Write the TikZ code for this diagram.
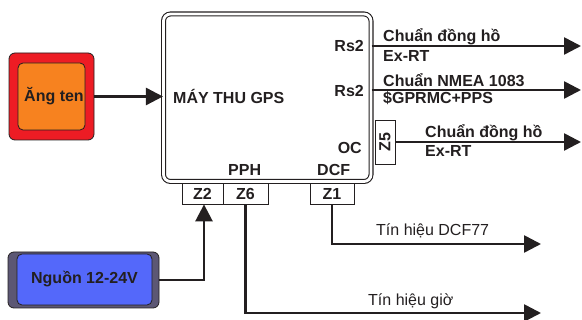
\documentclass[tikz,border=0pt]{standalone}
\usepackage{fontspec}
\setmainfont{Liberation Sans}
\usepackage{graphicx}
\usetikzlibrary{arrows.meta,positioning,calc}
\definecolor{antred}{RGB}{237,28,36}
\definecolor{antorange}{RGB}{247,130,31}
\definecolor{pwrgray}{RGB}{92,87,116}
\definecolor{pwrblue}{RGB}{84,104,250}
\definecolor{ink}{RGB}{35,31,32}

\begin{document}
\begin{tikzpicture}[x=1pt,y=-1pt,
	every node/.style={font=\fontsize{16}{19}\selectfont\bfseries,text=ink,inner sep=0pt},
	conn/.style={line width=2.6pt,draw=ink,-{Triangle[length=17pt,width=17pt]}},
	shell/.style={draw=ink,line width=0.8pt,rounded corners=6pt},
	port/.style={draw=ink,line width=0.8pt,fill=white,minimum height=21pt},
	plain/.style={font=\fontsize{16}{19}\selectfont}]
			\useasboundingbox (0,0) rectangle (582,320);
			% nguon va anten
			\node[shell,fill=antred,minimum width=85pt,minimum height=87pt] (ant) at (51.5,96.5) {};
			\node[shell,fill=antorange,minimum width=67pt,minimum height=67pt,rounded corners=5pt] (antin) at (51.5,96.5) {\hspace*{5pt}Ăng ten};
			\node[shell,fill=pwrgray,minimum width=151pt,minimum height=56pt] (pwr) at (83.5,280) {};
			\node[shell,fill=pwrblue,minimum width=135pt,minimum height=51pt,rounded corners=5pt] (pwrin) at (84.5,279.5) {Nguồn 12-24V};
			% may thu
			\node[draw=ink,double=white,double distance=2.8pt,line width=1.1pt,rounded corners=7pt,
				minimum width=207.5pt,minimum height=167.5pt] (gps) at (267.25,97.75) {};
			\node[anchor=base west] (gpsname) at (173,104) {MÁY THU GPS};
			\node[anchor=base east] (rsa) at (364,52) {Rs2};
			\node[anchor=base east] (rsb) at (364,97) {Rs2};
			\node[anchor=base east] (oc) at (362,154) {OC};
			\node[anchor=base west] (dcf) at (317,176) {DCF};
			\node[anchor=base west] (pph) at (228,176) {PPH};
			\node[port,minimum width=41pt] (z2) at (202.5,193.5) {Z2};
			\node[port,minimum width=45pt] (z6) at (245.5,193.5) {Z6};
			\node[port,minimum width=44pt] (z1) at (332,193.5) {Z1};
			\node[port,minimum width=20pt,minimum height=44pt] (z5) at (385,142) {\rotatebox{90}{Z5}};
			% dau ra
			\coordinate (e1) at (581,46);
			\coordinate (e2) at (581,90);
			\coordinate (e3) at (581,142);
			\coordinate (e4) at (541,244);
			\coordinate (e5) at (541,313);
			\draw[conn] (ant.east) -- (ant.east -| gps.west);
			\draw[conn] (pwr.east) -| ([xshift=1.5pt]z2.south);
			\draw[conn] (gps.east |- e1) -- (e1);
			\draw[conn] (gps.east |- e2) -- (e2);
			\draw[conn] (z5.east |- e3) -- (e3);
			\draw[conn] (z1.south) |- (e4);
			\draw[conn] (z6.south) |- (e5);
			\node[anchor=base west] (clka) at (383,42) {Chuẩn đồng hồ};
			\node[anchor=base west] (clkab) at (383,62) {Ex-RT};
			\node[anchor=base west] (nmea) at (383,87) {Chuẩn NMEA 1083};
			\node[anchor=base west] (nmeab) at (383,104) {\$GPRMC+PPS};
			\node[anchor=base west] (clkb) at (425,138) {Chuẩn đồng hồ};
			\node[anchor=base west] (clkbb) at (425,157) {Ex-RT};
			\node[plain,anchor=base west] (dcfsig) at (376,236) {Tín hiệu DCF77};
			\node[plain,anchor=base west] (timesig) at (368,306) {Tín hiệu giờ};
		\end{tikzpicture}
\end{document}
